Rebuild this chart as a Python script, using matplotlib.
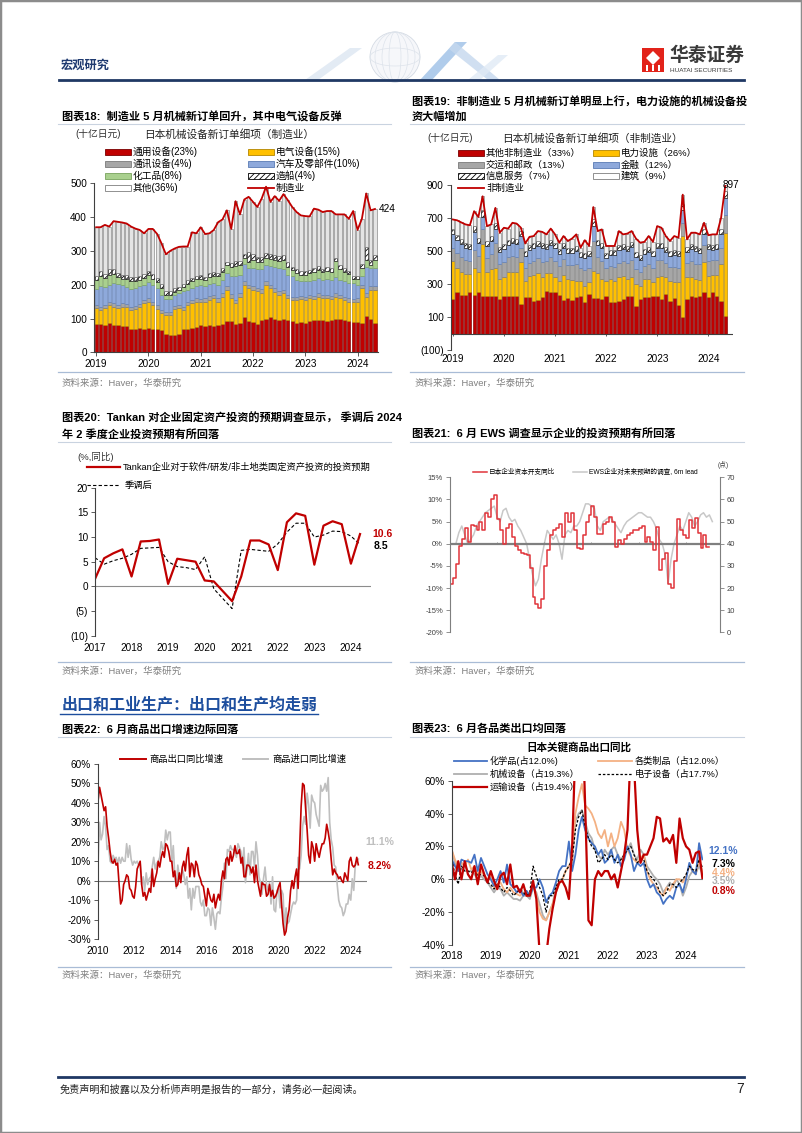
import numpy as np
import matplotlib
matplotlib.use('Agg')
import matplotlib.pyplot as plt
from matplotlib.lines import Line2D
from matplotlib.patches import Rectangle, Polygon, Ellipse

plt.rcParams['font.family'] = ['Liberation Sans', 'Noto Sans CJK SC']
plt.rcParams['hatch.linewidth'] = 0.6
plt.rcParams['axes.unicode_minus'] = False

# ---------- data ----------
# chart 18: machinery orders, manufacturing (bn yen), 2019-01 .. 2024-05
mfg_years = ['2019', '2020', '2021', '2022', '2023', '2024']
mfg_total = [370, 370, 377, 372, 388, 386, 384, 381, 372, 366, 362, 352,
             365, 365, 350, 322, 290, 300, 307, 312, 313, 313, 355, 352,
             370, 350, 352, 362, 385, 393, 420, 365, 447, 408, 452, 460,
             445, 430, 455, 490, 445, 462, 448, 468, 450, 430, 415, 405,
             403, 402, 425, 422, 415, 418, 418, 408, 408, 408, 395, 418,
             362, 395, 470, 420, 424]
mfg_general = [85, 83, 80, 88, 82, 80, 78, 78, 70, 70, 72, 68,
               72, 70, 70, 65, 55, 50, 52, 55, 68, 70, 72, 75,
               80, 78, 80, 78, 82, 85, 92, 92, 85, 88, 105, 92,
               90, 85, 95, 98, 105, 98, 95, 100, 95, 92, 88, 90,
               88, 92, 95, 97, 95, 92, 95, 98, 100, 95, 92, 90,
               90, 88, 107, 100, 87]
mfg_electric = [45, 42, 50, 52, 53, 50, 57, 55, 55, 58, 61, 77,
                78, 70, 58, 50, 55, 60, 76, 75, 57, 70, 73, 75,
                68, 72, 75, 82, 68, 80, 93, 68, 60, 77, 95, 98,
                95, 95, 80, 102, 85, 80, 75, 75, 65, 63, 67, 68,
                67, 68, 63, 68, 65, 68, 63, 67, 60, 60, 58, 58,
                60, 102, 58, 85, 98]
mfg_comm = [10, 10, 9, 10, 10, 11, 10, 9, 10, 10, 10, 9,
            10, 10, 11, 9, 8, 8, 9, 10, 10, 10, 9, 10,
            10, 10, 11, 10, 10, 10, 10, 12, 10, 10, 11, 10,
            10, 10, 11, 10, 10, 12, 10, 10, 10, 10, 10, 10,
            10, 10, 10, 11, 10, 10, 10, 10, 10, 10, 10, 10,
            10, 10, 11, 10, 10]
mfg_auto = [48, 60, 55, 50, 60, 60, 53, 52, 53, 52, 52, 45,
            47, 50, 52, 45, 40, 40, 32, 35, 45, 35, 35, 35,
            42, 35, 35, 35, 40, 40, 40, 55, 70, 55, 50, 50,
            55, 55, 60, 48, 55, 62, 68, 60, 60, 60, 50, 44,
            45, 42, 47, 45, 45, 48, 47, 47, 45, 45, 45, 47,
            40, 25, 75, 55, 55]
mfg_chem = [27, 30, 25, 30, 27, 22, 20, 22, 22, 20, 20, 22,
            22, 18, 18, 22, 12, 12, 8, 8, 12, 18, 22, 22,
            18, 18, 22, 22, 25, 22, 22, 25, 30, 28, 18, 18,
            22, 22, 22, 22, 22, 22, 22, 27, 22, 18, 20, 18,
            20, 22, 22, 22, 22, 22, 22, 48, 32, 28, 27, 12,
            17, 25, 22, 8, 22]
mfg_ship = [12, 15, 12, 15, 15, 12, 12, 12, 12, 12, 12, 12,
            12, 15, 12, 12, 10, 10, 12, 10, 10, 10, 10, 10,
            12, 10, 12, 12, 10, 12, 10, 12, 15, 12, 12, 30,
            18, 15, 15, 15, 15, 15, 15, 15, 15, 10, 10, 10,
            10, 10, 12, 12, 10, 12, 12, 10, 10, 10, 10, 10,
            10, 12, 40, 15, 15]

# chart 19: machinery orders, non-manufacturing (bn yen), 2019-01 .. 2024-05
nm_total = [690, 685, 672, 660, 655, 740, 705, 830, 650, 660, 760, 610,
            640, 635, 670, 665, 640, 545, 585, 590, 620, 615, 600, 635,
            600, 550, 590, 560, 575, 600, 520, 565, 530, 765, 620, 630,
            530, 530, 530, 620, 600, 605, 620, 575, 550, 555, 590, 555,
            650, 640, 590, 560, 590, 580, 840, 570, 610, 610, 600, 670,
            595, 600, 600, 700, 897]
nm_other = [210, 250, 235, 235, 250, 235, 250, 230, 230, 230, 225, 210,
            225, 230, 230, 230, 180, 220, 220, 195, 205, 220, 260, 255,
            250, 235, 205, 215, 205, 220, 230, 190, 240, 215, 215, 210,
            225, 190, 190, 195, 210, 230, 225, 170, 210, 220, 220, 225,
            225, 210, 240, 200, 215, 175, 100, 210, 225, 220, 225, 250,
            220, 250, 225, 200, 105]
nm_power = [230, 150, 140, 125, 110, 160, 120, 310, 140, 160, 175, 120,
            115, 145, 140, 145, 255, 100, 130, 160, 160, 120, 105, 110,
            90, 85, 150, 115, 120, 100, 90, 100, 70, 165, 150, 120,
            95, 140, 130, 145, 140, 100, 120, 130, 80, 110, 110, 90,
            120, 140, 100, 120, 100, 140, 490, 130, 120, 110, 100, 185,
            130, 105, 130, 220, 505]
nm_transport = [80, 85, 90, 85, 80, 110, 100, 90, 85, 90, 150, 90,
                95, 90, 100, 90, 85, 80, 80, 85, 90, 95, 75, 100,
                100, 90, 95, 85, 90, 100, 80, 95, 90, 180, 100, 110,
                80, 80, 85, 90, 90, 95, 100, 90, 85, 80, 90, 85,
                100, 95, 90, 85, 90, 85, 80, 90, 95, 90, 95, 100,
                90, 90, 90, 100, 110]
nm_finance = [80, 80, 75, 75, 70, 110, 80, 75, 75, 80, 80, 75,
              75, 70, 80, 75, 70, 70, 75, 75, 75, 80, 70, 70,
              75, 70, 70, 70, 75, 80, 65, 75, 70, 90, 70, 80,
              60, 65, 70, 75, 70, 75, 80, 75, 70, 70, 75, 70,
              75, 70, 65, 65, 70, 70, 75, 65, 70, 80, 70, 65,
              70, 60, 65, 80, 100]
nm_info = [35, 30, 30, 30, 30, 35, 30, 40, 30, 30, 40, 30,
           30, 30, 30, 30, 30, 30, 30, 30, 30, 30, 30, 30,
           30, 30, 30, 30, 30, 30, 30, 30, 30, 40, 30, 30,
           25, 30, 30, 30, 30, 30, 30, 30, 30, 30, 30, 30,
           30, 30, 30, 30, 30, 30, 40, 30, 30, 30, 30, 30,
           30, 30, 30, 30, 40]

# chart 20: Tankan fixed investment plans, quarterly 2017Q1 .. 2024Q2
tankan_years = ['2017', '2018', '2019', '2020', '2021', '2022', '2023', '2024']
tankan_raw = [1.5, 5.7, 6.7, 7.5, 2.0, 9.1, 9.2, 9.5, 0.5, 5.6, 5.3, 5.0,
              1.2, 1.0, -1.0, -3.0, 2.0, 9.3, 9.3, 8.5, 3.3, 13.0, 14.8, 14.3,
              4.4, 12.3, 13.2, 12.6, 4.6, 10.6]
tankan_sa = [5.8, 4.5, 5.2, 5.7, 6.5, 7.7, 7.8, 7.9, 5.0, 4.0, 3.8, 3.4,
             6.0, -0.5, -2.5, -4.5, 7.3, 7.5, 7.3, 7.1, 8.6, 11.0, 12.8, 12.8,
             10.0, 10.4, 11.2, 11.1, 10.2, 8.5]

# chart 21: capex yoy (%) quarterly 2002Q1 .. 2024Q1; EWS (pts) 2002Q3 .. 2024Q2
capex_yoy = [-9, -7.8, -4.5, -0.5, 1, 3.5, 0.5, 4.3, 4, 3, 5, 3,
             7, 6, 10, 11, 5.5, 3, 0, 3.5, 4.5, 1.5, -0.5, -1.5,
             -2, -2.3, -2.5, -5.5, -12, -13.5, -14.5, -12.5, -5, -1.5, 2, 3,
             3.5, 4.5, 1.5, 7, 5, 7, 3, -1, -1.2, 2, 5, 6.5,
             8.5, 6, 2.3, 2.3, 4.5, 5, 6, 5, -0.8, 0.8, 0, 1,
             2, 2.5, 3, 3, 3.5, 4, 0.5, 1.5, 0.5, -1.5, 3.7, -6,
             -3.5, -2, -9, -10, -4, 5.5, 3, 2, 1.3, 5.3, 3.5, 5.8,
             2.5, -1, 2, -0.8, -0.7]
ews_lead = [40, 45, 48, 44, 40, 42, 44, 48, 50, 52, 54, 55, 56, 57,
            52, 50, 55, 56, 52, 50, 51, 48, 46, 43, 40, 33, 26, 21, 24, 33,
            40, 46, 44, 42, 44, 40, 33, 44, 46, 45, 48, 48, 50, 54, 58, 58,
            57, 56, 48, 46, 50, 51, 52, 51, 49, 47, 45, 48, 50, 51, 52, 53,
            54, 54, 53, 52, 52, 50, 47, 42, 40, 35, 22, 33, 40, 44, 48, 46,
            50, 54, 52, 48, 50, 53, 54, 52, 53, 50]
ews_years = ['2002', '2006', '2010', '2014', '2018', '2022']

# chart 22: goods exports / imports yoy (%), monthly 2010-01 .. 2024-06
export_yoy = [41, 48, 44, 40, 36, 38, 28, 22, 15, 10, 9, 11,
              8, 9, -2, -12, -10, -2, 0, 3, 2, -4, -5, -8,
              -9, -3, 6, 8, 10, -2, -8, -6, -10, -7, -4, -6,
              6, -3, 1, 4, 10, 7, 12, 15, 12, 19, 18, 15,
              10, 10, 2, 5, -3, -2, 4, -1, 7, 10, 5, 13,
              17, 2, 9, 8, 2, 10, 8, 3, 1, -2, -3, -8,
              -13, -4, -7, -10, -11, -7, -14, -10, -7, -10, 0, 5,
              1, 11, 12, 8, 15, 10, 13, 18, 14, 14, 16, 9,
              12, 2, 2, 8, 8, 7, 4, 7, -1, 8, 0, -4,
              -8, -1, -2, -2, -8, -7, -2, -8, -5, -9, -8, -6,
              -3, -1, -12, -22, -28, -26, -19, -15, -5, 0, -4, 2,
              6, -4, 16, 38, 50, 49, 37, 26, 13, 9, 20, 17,
              10, 19, 15, 12, 16, 19, 19, 22, 29, 25, 20, 11,
              3, 6, 4, 3, 1, 2, 0, -1, 4, 2, 0, 10,
              12, 8, 7, 8, 12, 8.2]
import_yoy = [9, 30, 21, 24, 33, 28, 16, 18, 10, 9, 13, 11,
              12, 9, 12, 9, 12, 10, 10, 19, 12, 18, 11, 8,
              10, 9, 10, 8, 9, -2, 2, -5, 4, -2, 1, 2,
              7, 12, 6, 9, 10, 12, 20, 16, 17, 26, 21, 25,
              25, 9, 18, 3, -4, 8, 2, 2, 6, 3, -2, 2,
              -9, -4, -15, -4, -9, -3, -3, -3, -11, -13, -10, -18,
              -18, -14, -15, -23, -14, -19, -25, -17, -16, -17, -9, -3,
              9, 1, 16, 15, 18, 16, 16, 15, 12, 19, 17, 15,
              8, 17, -1, 6, 14, 3, 15, 15, 7, 20, 13, 2,
              -1, -7, 1, 7, -2, -5, -1, -12, 2, -15, -16, -5,
              -4, -14, -5, -7, -26, -14, -22, -21, -17, -13, -11, -12,
              -10, 12, 6, 13, 28, 33, 29, 45, 39, 27, 44, 41,
              40, 34, 31, 28, 49, 46, 47, 50, 46, 53, 30, 21,
              17, 8, 7, -2, -10, -13, -14, -18, -16, -12, -12, -7,
              -10, 1, -5, 8, 10, 11.1]

# chart 23: key export categories yoy (%), monthly 2018-01 .. 2024-06
cat_years = ['2018', '2019', '2020', '2021', '2022', '2023', '2024']
chem_yoy = [12, 8, 5, 12, 11, 11, 10, 15, 5, 13, 8, 3,
            0, -4, 0, 5, -2, 9, -3, -5, -8, -6, -10, -7,
            -10, -5, -5, 0, -5, -14, -10, -8, -2, 5, 8, 8,
            23, 5, 15, 30, 38, 30, 25, 22, 20, 15, 18, 10,
            12, 18, 10, 15, 8, 12, 20, 15, 5, 10, 8, 10,
            0, -5, -3, -8, -10, -15, -12, -10, -12, -5, -3, -8,
            0, 10, 5, 3, 22, 12.1]
goods_yoy = [18, 12, 8, 10, 8, 12, 6, 8, 3, 5, 2, 0,
             2, -5, -3, -2, -6, -8, -5, -8, -9, -10, -8, -10,
             -8, -3, -10, -20, -24, -25, -20, -15, -8, -3, 0, 5,
             8, 12, 40, 50, 58, 45, 43, 40, 35, 28, 25, 30,
             20, 28, 20, 25, 35, 30, 18, 14, 12, 10, 13, 15,
             5, 0, -3, -5, -8, -10, -5, -7, -3, 0, 0, -2,
             2, 8, 5, 3, 12, 4.4]
mach_yoy = [18, 10, 5, 10, 8, 5, 5, 3, 0, 2, 0, -2,
            -5, -8, -5, -6, -10, -8, -10, -12, -12, -13, -10, -10,
            -12, -5, -8, -15, -22, -25, -20, -15, -5, -2, 0, 5,
            8, 10, 35, 40, 42, 35, 28, 25, 18, 15, 12, 18,
            15, 18, 20, 15, 12, 15, 18, 22, 15, 12, 18, 15,
            8, 5, 2, 0, -3, -8, -5, -2, -5, 0, -3, -10,
            -5, 2, 5, 4, 8, 3.5]
elec_yoy = [12, 3, -3, 8, 5, 5, 4, 6, 2, 3, 2, -2,
            -3, -6, -3, -5, -8, -5, -7, -10, -8, -6, -8, -10,
            -8, 8, 2, -5, -10, -20, -10, -10, -5, 0, 0, 5,
            8, 12, 30, 38, 42, 32, 25, 20, 18, 10, 12, 15,
            12, 15, 12, 10, 12, 15, 18, 20, 15, 10, 12, 12,
            5, 2, 0, -3, -8, -10, -8, -3, -3, -5, -2, 0,
            3, 8, 6, 5, 12, 7.3]
trans_yoy = [10, 0, 11, 0, 11, 3, 0, 8, -3, 9, 3, -2,
             5, -1, -6, 2, 4, -3, 9, -5, -4, -8, -3, -10,
             -10, -1, -12, -45, -62, -47, -30, -18, -8, -2, -1, -5,
             -12, 20, 80, 95, 110, 45, -25, -28, 0, 5, 2, 5,
             5, 0, 3, -5, 5, 15, 30, 80, 70, 30, 10, 15,
             15, 20, 25, 38, 37, 23, 25, 22, 27, 10, 37, 25,
             20, 18, 10, 16, 17, 0.8]

# ---------- page helpers (pixel coords, y from top) ----------
W, H = 802, 1133
fig = plt.figure(figsize=(W / 100, H / 100), dpi=100)
fig.patch.set_facecolor('white')

RED = '#C00000'
SRC_LINE = '#A9BCD6'
TITLE_LINE = '#C9D3E0'


def box(x0, y0, x1, y1):
    ax = fig.add_axes([x0 / W, 1 - y1 / H, (x1 - x0) / W, (y1 - y0) / H])
    ax.patch.set_alpha(0)
    return ax


def put(x, y, s, **kw):
    kw.setdefault('va', 'center')
    kw.setdefault('fontsize', 7)
    return fig.text(x / W, 1 - y / H, s, **kw)


def hline(x0, x1, y, color, lw, ls='-'):
    fig.add_artist(Line2D([x0 / W, x1 / W], [1 - y / H, 1 - y / H], color=color, lw=lw, ls=ls))


def leg_patch(x0, y, label, fc, ec, hatch=None, size=7, w=26, h=6):
    fig.add_artist(Rectangle((x0 / W, 1 - (y + h / 2) / H), w / W, h / H, transform=fig.transFigure,
                             facecolor=fc, edgecolor=ec, lw=0.6, hatch=hatch))
    put(x0 + w + 2, y, label, fontsize=size)


def leg_line(x0, x1, y, label, color, lw=1.3, ls='-', size=7, gap=3):
    hline(x0, x1, y, color, lw, ls)
    put(x1 + gap, y, label, fontsize=size)


def style(ax, size=7.2):
    for s in ['top', 'right']:
        ax.spines[s].set_visible(False)
    ax.spines['left'].set_color('#404040')
    ax.spines['left'].set_linewidth(0.8)
    ax.tick_params(axis='y', length=3, width=0.6, labelsize=size, color='#404040', pad=2)
    ax.tick_params(axis='x', labelsize=size)


def block_frame(xl, xr, y_title_line, y_src_line, y_src):
    hline(xl, xr, y_title_line, TITLE_LINE, 0.8)
    hline(xl, xr, y_src_line, SRC_LINE, 0.9)
    put(xl + 4, y_src, '资料来源：Haver，华泰研究', fontsize=6.8, color='#808080')


# ---------- header / footer ----------
fig.add_artist(Rectangle((0, 0), 1, 1, transform=fig.transFigure, fill=False, ec='#8C8C8C', lw=2.5))
put(61, 66, '宏观研究', fontsize=8.8, color='#1F3A70', fontweight='bold')

# faint globe and stripes in the header
for pts, col in [([(305, 80), (350, 48), (362, 48), (318, 80)], '#DCE6F2'),
                 ([(420, 80), (455, 42), (467, 42), (432, 80)], '#9DC0E6'),
                 ([(455, 42), (500, 80), (488, 80), (449, 49)], '#C5D8EE'),
                 ([(468, 80), (498, 55), (508, 55), (480, 80)], '#E0EAF5')]:
    fig.add_artist(Polygon([(px / W, 1 - py / H) for px, py in pts], closed=True,
                           transform=fig.transFigure, facecolor=col, edgecolor='none', alpha=0.8))
fig.add_artist(Ellipse((395 / W, 1 - 57 / H), 50 / W, 50 / H, transform=fig.transFigure,
                       facecolor='#F5F7FA', edgecolor='#D0D7E1', lw=0.6, alpha=0.9))
for k in range(3):
    fig.add_artist(Ellipse((395 / W, 1 - 57 / H), (12 + 14 * k) / W, 50 / H, transform=fig.transFigure,
                           fill=False, edgecolor='#DDE3EB', lw=0.5))
fig.add_artist(Ellipse((395 / W, 1 - 57 / H), 50 / W, 18 / H, transform=fig.transFigure,
                       fill=False, edgecolor='#DDE3EB', lw=0.5))
hline(59, 744, 80, '#1F3864', 2.0)

# logo
fig.add_artist(Rectangle((642 / W, 1 - 72 / H), 22 / W, 24 / H, transform=fig.transFigure,
                         facecolor='#E2231A', edgecolor='none'))
fig.add_artist(Polygon([((653 + dx) / W, 1 - (51 + dy) / H) for dx, dy in
                        [(0, 0), (7, 7), (0, 14), (-7, 7)]], closed=True, transform=fig.transFigure,
                       facecolor='white', edgecolor='none'))
for dx in [-6, 0, 6]:
    fig.add_artist(Rectangle(((652 + dx) / W, 1 - 71 / H), 2 / W, 6 / H, transform=fig.transFigure,
                             facecolor='white', edgecolor='none'))
put(669, 56, '华泰证券', fontsize=13.5, fontweight='bold', color='#3A3A3A')
put(670, 70, 'HUATAI SECURITIES', fontsize=4.6, color='#3A3A3A')

hline(58, 744, 1077, '#1F3864', 2.0)
put(60, 1089, '免责声明和披露以及分析师声明是报告的一部分，请务必一起阅读。', fontsize=7.3,
    fontstyle='italic', color='#222222')
put(744, 1089, '7', fontsize=10, ha='right', color='#222222')

# ---------- chart 18 ----------
put(62, 117, '图表18:  制造业 5 月机械新订单回升，其中电气设备反弹', fontsize=8, fontweight='bold')
block_frame(58, 391, 124, 372, 383)
put(75, 134, '(十亿日元)', fontsize=7, color='#333333')
put(229, 134, '日本机械设备新订单细项（制造业）', fontsize=7.7, ha='center', color='#222222')

GOLD, GOLD_E = '#FFC000', '#B38600'
GREY, GREY_E = '#A6A6A6', '#7A7A7A'
BLUE, BLUE_E = '#8EA9DB', '#5A7BB5'
GREEN, GREEN_E = '#A9D08E', '#78A25C'
OTHER, OTHER_E = '#E4E4E4', '#808080'

leg_patch(105, 152, '通用设备(23%)', RED, '#7A0000')
leg_patch(248, 152, '电气设备(15%)', GOLD, GOLD_E)
leg_patch(105, 164, '通讯设备(4%)', GREY, GREY_E)
leg_patch(248, 164, '汽车及零部件(10%)', BLUE, BLUE_E)
leg_patch(105, 176, '化工品(8%)', GREEN, GREEN_E)
leg_patch(248, 176, '造船(4%)', 'white', 'black', hatch='//////')
leg_patch(105, 188, '其他(36%)', 'white', '#7F7F7F')
leg_line(248, 274, 188, '制造业', RED, lw=1.3, gap=2)

ax = box(94, 183.3, 378, 352.3)
x = np.arange(len(mfg_total))
parts = [np.array(mfg_general), np.array(mfg_electric), np.array(mfg_comm),
         np.array(mfg_auto), np.array(mfg_chem), np.array(mfg_ship)]
mfg_other = np.array(mfg_total) - sum(parts)
styles = [(RED, '#7A0000', None), (GOLD, GOLD_E, None), (GREY, GREY_E, None),
          (BLUE, BLUE_E, None), (GREEN, GREEN_E, None), ('white', 'black', '//////'),
          (OTHER, OTHER_E, None)]
bottom = np.zeros(len(x))
for vals, (fc, ec, hatch) in zip(parts + [mfg_other], styles):
    ax.bar(x, vals, 0.76, bottom=bottom, color=fc, edgecolor=ec, linewidth=0.45, hatch=hatch)
    bottom += vals
ax.plot(x, mfg_total, color=RED, lw=1.3)
ax.text(64.8, 424, '424', fontsize=7.2, va='center', ha='left')
ax.set_xlim(-0.5, 64.7)
ax.set_ylim(0, 500)
ax.set_yticks([0, 100, 200, 300, 400, 500])
style(ax)
ax.spines['bottom'].set_color('#404040')
ax.spines['bottom'].set_linewidth(0.8)
ax.set_xticks(range(0, 65, 12))
ax.set_xticklabels(mfg_years)
ax.tick_params(axis='x', length=3, width=0.6, color='#404040', pad=2)

# ---------- chart 19 ----------
put(412, 102, '图表19:  非制造业 5 月机械新订单明显上行，电力设施的机械设备投', fontsize=8, fontweight='bold')
put(412, 117, '资大幅增加', fontsize=8, fontweight='bold')
block_frame(410, 744, 124, 372, 383)
put(427, 138, '(十亿日元)', fontsize=7, color='#333333')
put(592, 138, '日本机械设备新订单细项（非制造业）', fontsize=7.7, ha='center', color='#222222')

leg_patch(458, 153, '其他非制造业（33%）', RED, '#7A0000', size=6.8)
leg_patch(593, 153, '电力设施（26%）', GOLD, GOLD_E, size=6.8)
leg_patch(458, 165, '交运和邮政（13%）', GREY, GREY_E, size=6.8)
leg_patch(593, 165, '金融（12%）', BLUE, BLUE_E, size=6.8)
leg_patch(458, 176, '信息服务（7%）', 'white', 'black', hatch='//////', size=6.8)
leg_patch(593, 176, '建筑（9%）', 'white', '#7F7F7F', size=6.8)
leg_line(458, 484, 188, '非制造业', RED, lw=1.3, size=6.8, gap=2)

ax = box(450.7, 184.7, 733, 350.3)
x = np.arange(len(nm_total))
parts = [np.array(nm_other), np.array(nm_power), np.array(nm_transport),
         np.array(nm_finance), np.array(nm_info)]
nm_build = np.array(nm_total) - sum(parts)
styles = [(RED, '#7A0000', None), (GOLD, GOLD_E, None), (GREY, GREY_E, None),
          (BLUE, BLUE_E, None), ('white', 'black', '//////'), ('#F2F2F2', '#808080', None)]
bottom = np.zeros(len(x))
for vals, (fc, ec, hatch) in zip(parts + [nm_build], styles):
    ax.bar(x, vals, 0.76, bottom=bottom, color=fc, edgecolor=ec, linewidth=0.45, hatch=hatch)
    bottom += vals
ax.plot(x, nm_total, color=RED, lw=1.3)
ax.text(63.3, 900, '897', fontsize=7.2, va='center', ha='left')
ax.set_xlim(-0.5, 65.8)
ax.set_ylim(-100, 900)
ax.set_yticks([-100, 100, 300, 500, 700, 900])
ax.set_yticklabels(['(100)', '100', '300', '500', '700', '900'])
style(ax)
ax.spines['bottom'].set_visible(False)
ax.axhline(0, color='#404040', lw=0.8)
ax.vlines(range(0, 65, 12), -15, 0, color='#404040', lw=0.6)
ax.set_xticks(range(0, 65, 12))
ax.set_xticklabels(mfg_years)
ax.tick_params(axis='x', length=0, pad=3)

# ---------- chart 20 ----------
put(62, 418, '图表20:  Tankan 对企业固定资产投资的预期调查显示， 季调后 2024', fontsize=8, fontweight='bold')
put(62, 434, '年 2 季度企业投资预期有所回落', fontsize=8, fontweight='bold')
block_frame(58, 391, 442, 662, 671)
put(77, 457, '(%,同比)', fontsize=6.8, color='#333333')
leg_line(87, 120, 467, 'Tankan企业对于软件/研发/非土地类固定资产投资的投资预期', RED, lw=1.6, size=6.7)
leg_line(87, 120, 485, '季调后', 'black', lw=0.8, ls=(0, (3, 2)), size=6.7, gap=5)

ax = box(95, 487.7, 371, 635.7)
q = np.arange(len(tankan_raw))
ax.axhline(0, color='#8C8C8C', lw=0.8)
ax.plot(q, tankan_sa, color='black', lw=0.8, ls=(0, (3, 2)))
ax.plot(q, tankan_raw, color=RED, lw=1.6)
ax.set_xlim(0, 30.2)
ax.set_ylim(-10, 20)
ax.set_yticks([-10, -5, 0, 5, 10, 15, 20])
ax.set_yticklabels(['(10)', '(5)', '0', '5', '10', '15', '20'])
style(ax)
ax.spines['bottom'].set_visible(False)
ax.set_xticks(range(0, 30, 4))
ax.set_xticklabels(tankan_years)
ax.tick_params(axis='x', length=0, pad=5)
put(372, 534, '10.6', fontsize=7.5, color=RED, fontweight='bold')
put(374, 546, '8.5', fontsize=7.5, color='black', fontweight='bold')

# ---------- chart 21 ----------
put(412, 434, '图表21:  6 月 EWS 调查显示企业的投资预期有所回落', fontsize=8, fontweight='bold')
block_frame(410, 744, 442, 662, 671)
CAPEX_RED = '#E0343A'
leg_line(473, 487, 472, '日本企业资本开支同比', CAPEX_RED, lw=1.1, size=4.8, gap=2)
leg_line(573, 587, 472, 'EWS企业对未来预期的调查, 6m lead', '#C8C8C8', lw=1.1, size=4.8, gap=2)
put(718, 465, '(点)', fontsize=4.8, color='#404040')

ax = box(450, 477.3, 720, 632.3)
ax2 = ax.twinx()
ax2.patch.set_alpha(0)
xq = 2002 + np.arange(len(capex_yoy)) / 4
xe = 2002.5 + np.arange(len(ews_lead)) / 4
ax2.plot(xe, ews_lead, color='#C8C8C8', lw=1.1)
ax.set_zorder(ax2.get_zorder() + 1)
ax.axhline(0, color='#7F7F7F', lw=1.6)
ax.step(xq, capex_yoy, where='post', color=CAPEX_RED, lw=1.1)
ax.vlines([2006, 2010, 2014, 2018, 2022], 0, 0.35, color='#7F7F7F', lw=0.6)
ax.set_xlim(2002, 2024.9)
ax.set_ylim(-20, 15)
ax2.set_ylim(0, 70)
ax.set_yticks(range(-20, 16, 5))
ax.set_yticklabels(['%d%%' % v for v in range(-20, 16, 5)])
ax2.set_yticks(range(0, 71, 10))
for a in (ax, ax2):
    a.spines['top'].set_visible(False)
    a.spines['bottom'].set_visible(False)
    a.tick_params(axis='y', length=3, width=0.6, labelsize=5.5, color='#7F7F7F', labelcolor='#404040', pad=2)
ax.spines['right'].set_visible(False)
ax2.spines['left'].set_visible(False)
ax.spines['left'].set_color('#7F7F7F')
ax2.spines['right'].set_color('#7F7F7F')
ax.set_xticks([2002, 2006, 2010, 2014, 2018, 2022])
ax.set_xticklabels(ews_years)
ax.tick_params(axis='x', length=0, labelsize=5.8, pad=2)
ax2.set_xticks([])

# ---------- section heading ----------
put(62, 705, '出口和工业生产：出口和生产均走弱', fontsize=11.5, fontweight='bold', color='#1D4E9E')
hline(60, 318, 714, '#1D4E9E', 1.0)

# ---------- chart 22 ----------
put(62, 729, '图表22:  6 月商品出口增速边际回落', fontsize=8, fontweight='bold')
block_frame(58, 391, 737, 967, 975)
leg_line(120, 146, 759, '商品出口同比增速', RED, lw=1.4, size=6.7)
leg_line(243, 268, 759, '商品进口同比增速', '#BFBFBF', lw=1.4, size=6.7, gap=4)

ax = box(97.7, 764, 367, 939)
xm = 2010 + np.arange(len(export_yoy)) / 12
ax.axhline(0, color='#7F7F7F', lw=0.8)
ax.plot(xm, import_yoy, color='#BFBFBF', lw=1.2)
ax.plot(xm, export_yoy, color=RED, lw=1.2)
ax.set_xlim(2009.98, 2024.9)
ax.set_ylim(-30, 60)
ax.set_yticks(range(-30, 61, 10))
ax.set_yticklabels(['%d%%' % v for v in range(-30, 61, 10)])
style(ax)
ax.spines['bottom'].set_visible(False)
ax.set_xticks(range(2010, 2025, 2))
ax.tick_params(axis='x', length=0, pad=5)
put(365, 842, '11.1%', fontsize=7.5, color='#BFBFBF', fontweight='bold')
put(368, 866, '8.2%', fontsize=7.5, color=RED, fontweight='bold')

# ---------- chart 23 ----------
put(412, 729, '图表23:  6 月各品类出口均回落', fontsize=8, fontweight='bold')
block_frame(410, 744, 737, 967, 975)
put(579, 747, '日本关键商品出口同比', fontsize=7.6, ha='center', fontweight='bold')
C_BLUE, C_ORANGE, C_GREY = '#4472C4', '#F4B183', '#AFAFAF'
leg_line(454, 487, 761, '化学品(占12.0%)', C_BLUE, lw=1.3, size=6.6)
leg_line(598, 632, 761, '各类制品（占12.0%）', C_ORANGE, lw=1.3, size=6.6)
leg_line(454, 487, 774, '机械设备（占19.3%）', C_GREY, lw=1.3, size=6.6)
leg_line(598, 632, 774, '电子设备（占17.7%）', 'black', lw=0.9, ls=(0, (2, 1.5)), size=6.6)
leg_line(454, 487, 787, '运输设备（占19.4%）', RED, lw=1.6, size=6.6)

ax = box(451.7, 780.7, 703, 945)
xi = np.arange(len(chem_yoy))
ax.axhline(0, color='#7F7F7F', lw=0.8)
ax.plot(xi, mach_yoy, color=C_GREY, lw=1.3)
ax.plot(xi, goods_yoy, color=C_ORANGE, lw=1.3)
ax.plot(xi, chem_yoy, color=C_BLUE, lw=1.3)
ax.plot(xi, elec_yoy, color='black', lw=0.9, ls=(0, (2, 1.5)))
ax.plot(xi, trans_yoy, color=RED, lw=1.6)
ax.set_xlim(0, 77.2)
ax.set_ylim(-40, 60)
ax.set_yticks(range(-40, 61, 20))
ax.set_yticklabels(['%d%%' % v for v in range(-40, 61, 20)])
style(ax)
ax.spines['bottom'].set_visible(False)
ax.set_xticks(range(0, 78, 12))
ax.set_xticklabels(cat_years)
ax.tick_params(axis='x', length=0, pad=4)
put(708, 851, '12.1%', fontsize=7.5, color=C_BLUE, fontweight='bold')
put(712, 864, '7.3%', fontsize=7.5, color='black', fontweight='bold')
put(712, 873, '4.4%', fontsize=7.5, color=C_ORANGE, fontweight='bold')
put(712, 881, '3.5%', fontsize=7.5, color=C_GREY, fontweight='bold')
put(712, 891, '0.8%', fontsize=7.5, color=RED, fontweight='bold')

fig.savefig('out.png', dpi=100)
